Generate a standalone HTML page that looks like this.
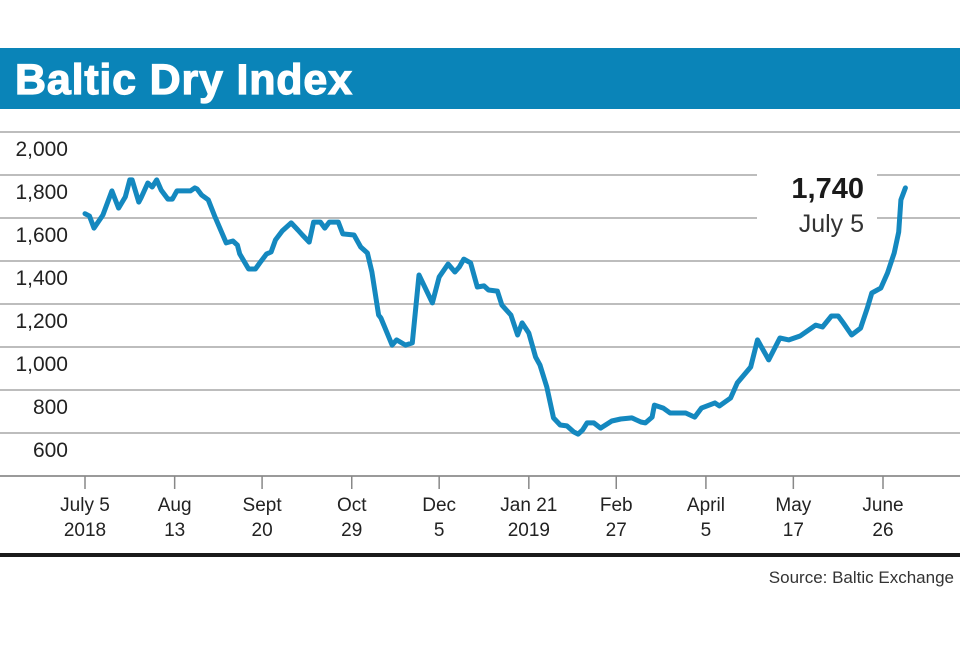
<!DOCTYPE html>
<html><head><meta charset="utf-8"><style>
html,body{margin:0;padding:0;background:#fff;}
body{width:960px;height:640px;overflow:hidden;font-family:"Liberation Sans",sans-serif;}
</style></head><body>
<svg id="chart" width="960" height="640" xmlns="http://www.w3.org/2000/svg" font-family="Liberation Sans, sans-serif">
<rect x="0" y="48" width="960" height="61" fill="#0a84b8"/>
<text x="15" y="94" fill="#fff" stroke="#fff" stroke-width="1.2" font-size="43" font-weight="bold" letter-spacing="0.8">Baltic Dry Index</text>
<g id="grid"></g>
<g id="yl"></g>
<g id="xl"></g>
<rect x="757" y="165" width="120" height="75" fill="#fff"/>
<path id="line" fill="none" stroke="#1488bf" stroke-width="5" stroke-linejoin="round" stroke-linecap="round"/>
<text x="864" y="198" text-anchor="end" font-size="29" font-weight="bold" fill="#1a1a1a">1,740</text>
<text x="864" y="232" text-anchor="end" font-size="25" fill="#333">July 5</text>
<rect x="0" y="553" width="960" height="4" fill="#1a1a1a"/>
<text x="954" y="583" text-anchor="end" font-size="17" fill="#333">Source: Baltic Exchange</text>
</svg>
<script>
const yTicks = [600, 800, 1000, 1200, 1400, 1600, 1800, 2000];
const yTickLabels = ["600", "800", "1,000", "1,200", "1,400", "1,600", "1,800", "2,000"];
const xTickDays = [0, 40, 79, 119, 158, 198, 237, 277, 316, 356];
const xTickLine1 = ["July 5", "Aug", "Sept", "Oct", "Dec", "Jan 21", "Feb", "April", "May", "June"];
const xTickLine2 = ["2018", "13", "20", "29", "5", "2019", "27", "5", "17", "26"];
const days = [0,2,4,8,12,15,18,20,21,24,25,28,30,32,34,37,39,41,47,49,50,52,55,58,63,66,68,69,73,76,78,81,83,85,88,92,95,97,100,102,105,107,109,113,115,120,123,126,128,131,132,137,139,143,146,149,155,158,162,165,167,169,172,175,178,180,184,186,190,193,195,198,201,203,206,209,212,215,218,220,222,224,227,230,235,239,244,248,250,253,254,258,261,268,272,275,281,283,288,291,297,300,305,310,314,319,326,329,333,336,338,342,346,349,351,355,358,361,363,364,366];
const values = [1620,1609,1553,1614,1726,1646,1698,1777,1777,1674,1693,1763,1744,1777,1730,1688,1688,1726,1726,1740,1735,1707,1684,1605,1484,1493,1474,1433,1363,1363,1391,1433,1442,1498,1540,1577,1544,1521,1488,1581,1581,1553,1581,1581,1526,1521,1465,1437,1349,1149,1135,1009,1033,1009,1019,1335,1205,1326,1386,1349,1372,1409,1391,1279,1284,1265,1260,1195,1149,1056,1112,1065,953,916,814,670,637,633,605,595,614,647,647,623,656,665,670,651,647,674,730,716,693,693,674,716,740,726,763,833,907,1033,940,1042,1033,1051,1102,1093,1144,1144,1116,1056,1088,1181,1251,1274,1344,1437,1535,1684,1740];

const NS = "http://www.w3.org/2000/svg";
function xs(d){ return 85 + d / 356 * 798; }
function ys(v){ return 476 - (v - 400) / 200 * 43; }

const grid = document.getElementById('grid');
const yl = document.getElementById('yl');
yTicks.forEach((t, i) => {
  const ln = document.createElementNS(NS, 'line');
  
  
  ln.setAttribute('x1', 0); ln.setAttribute('x2', 960);
  ln.setAttribute('y1', ys(t)); ln.setAttribute('y2', ys(t));
  ln.setAttribute('stroke', '#bdbdbd'); ln.setAttribute('stroke-width', 2);
  grid.appendChild(ln);
  const tx = document.createElementNS(NS, 'text');
  
  
  tx.setAttribute('x', 68); tx.setAttribute('y', ys(t) + 24);
  tx.setAttribute('text-anchor', 'end'); tx.setAttribute('font-size', 21); tx.setAttribute('fill', '#222');
  tx.textContent = yTickLabels[i];
  yl.appendChild(tx);
});
const axis = document.createElementNS(NS, 'line');


axis.setAttribute('x1', 0); axis.setAttribute('x2', 960);
axis.setAttribute('y1', ys(400)); axis.setAttribute('y2', ys(400));
axis.setAttribute('stroke', '#9a9a9a'); axis.setAttribute('stroke-width', 2);
grid.appendChild(axis);

const xl = document.getElementById('xl');
xTickDays.forEach((d, i) => {
  const x = xs(d);
  const tk = document.createElementNS(NS, 'line');
  
  
  tk.setAttribute('x1', x); tk.setAttribute('x2', x);
  tk.setAttribute('y1', 476); tk.setAttribute('y2', 489);
  tk.setAttribute('stroke', '#888'); tk.setAttribute('stroke-width', 1.5);
  xl.appendChild(tk);
  const t1 = document.createElementNS(NS, 'text');
  
  
  t1.setAttribute('x', x); t1.setAttribute('y', 511);
  t1.setAttribute('text-anchor', 'middle'); t1.setAttribute('font-size', 19); t1.setAttribute('fill', '#222');
  t1.textContent = xTickLine1[i];
  xl.appendChild(t1);
  const t2 = document.createElementNS(NS, 'text');
  
  
  t2.setAttribute('x', x); t2.setAttribute('y', 536);
  t2.setAttribute('text-anchor', 'middle'); t2.setAttribute('font-size', 19); t2.setAttribute('fill', '#222');
  t2.textContent = xTickLine2[i];
  xl.appendChild(t2);
});

let d = '';
values.forEach((v, i) => { d += (i ? 'L' : 'M') + xs(days[i]).toFixed(1) + ',' + ys(v).toFixed(1); });
document.getElementById('line').setAttribute('d', d);
</script>
</body></html>
